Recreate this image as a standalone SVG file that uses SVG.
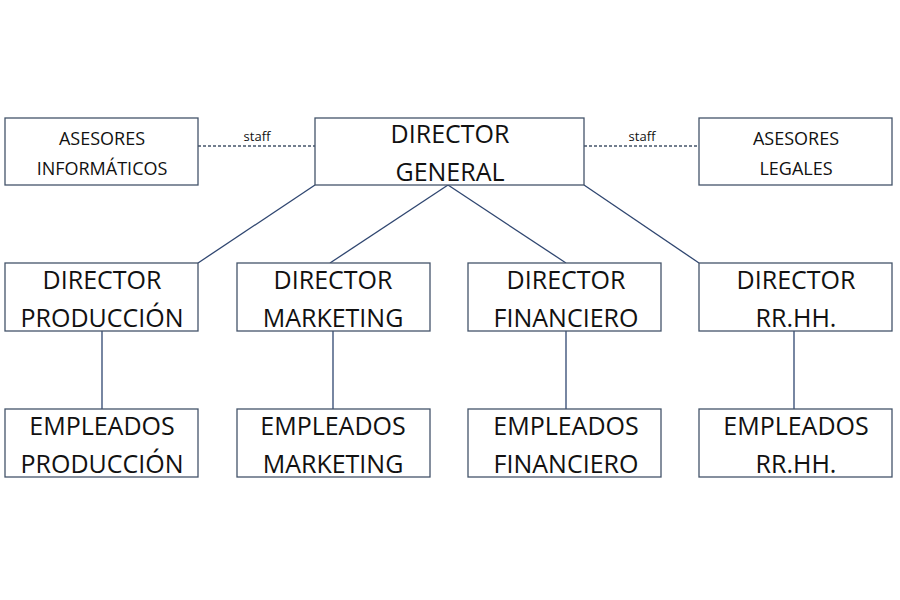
<svg xmlns="http://www.w3.org/2000/svg" width="900" height="600" viewBox="0 0 900 600">
<style>
rect{fill:#fff;stroke:#44546a;stroke-width:1.3}
text{font-family:"Open Sans","Liberation Sans",sans-serif;fill:#111;text-anchor:middle}
.b{font-size:25px}
.s{font-size:18px}
.l{font-size:13px}
.c line{stroke:#2f4670;stroke-width:1.3}
.c .d{stroke:#44546a;stroke-dasharray:3 2}
</style>
<rect x="0" y="0" width="900" height="600" style="stroke:none"/>
<g class="c" id="connectors">
<line class="d" x1="198" y1="146" x2="315" y2="146"/>
<line class="d" x1="584" y1="146" x2="699" y2="146"/>
<line x1="315" y1="185" x2="198" y2="263"/>
<line x1="448" y1="185" x2="330" y2="263"/>
<line x1="448" y1="185" x2="566" y2="263"/>
<line x1="584" y1="185" x2="699" y2="263"/>
<line x1="102" y1="331" x2="102" y2="409"/>
<line x1="333" y1="331" x2="333" y2="409"/>
<line x1="566" y1="331" x2="566" y2="409"/>
<line x1="794" y1="331" x2="794" y2="409"/>
<text class="l" x="257" y="141">staff</text>
<text class="l" x="642" y="141">staff</text>
</g>
<g id="asesores-info"><rect x="5" y="118" width="193" height="67"/><text class="s" x="102" y="145">ASESORES</text><text class="s" x="102" y="175">INFORMÁTICOS</text></g>
<g id="director-general"><rect x="315" y="118" width="269" height="67"/><text class="b" x="450" y="143">DIRECTOR</text><text class="b" x="450" y="181">GENERAL</text></g>
<g id="asesores-legales"><rect x="699" y="118" width="193" height="67"/><text class="s" x="796" y="145">ASESORES</text><text class="s" x="796" y="175">LEGALES</text></g>
<g id="dir-produccion"><rect x="5" y="263" width="193" height="68"/><text class="b" x="102" y="289">DIRECTOR</text><text class="b" x="102" y="327">PRODUCCIÓN</text></g>
<g id="dir-marketing"><rect x="237" y="263" width="193" height="68"/><text class="b" x="333" y="289">DIRECTOR</text><text class="b" x="333" y="327">MARKETING</text></g>
<g id="dir-financiero"><rect x="468" y="263" width="193" height="68"/><text class="b" x="566" y="289">DIRECTOR</text><text class="b" x="566" y="327">FINANCIERO</text></g>
<g id="dir-rrhh"><rect x="699" y="263" width="193" height="68"/><text class="b" x="796" y="289">DIRECTOR</text><text class="b" x="796" y="327">RR.HH.</text></g>
<g id="emp-produccion"><rect x="5" y="409" width="193" height="68"/><text class="b" x="102" y="435">EMPLEADOS</text><text class="b" x="102" y="473">PRODUCCIÓN</text></g>
<g id="emp-marketing"><rect x="237" y="409" width="193" height="68"/><text class="b" x="333" y="435">EMPLEADOS</text><text class="b" x="333" y="473">MARKETING</text></g>
<g id="emp-financiero"><rect x="468" y="409" width="193" height="68"/><text class="b" x="566" y="435">EMPLEADOS</text><text class="b" x="566" y="473">FINANCIERO</text></g>
<g id="emp-rrhh"><rect x="699" y="409" width="193" height="68"/><text class="b" x="796" y="435">EMPLEADOS</text><text class="b" x="796" y="473">RR.HH.</text></g>
</svg>
